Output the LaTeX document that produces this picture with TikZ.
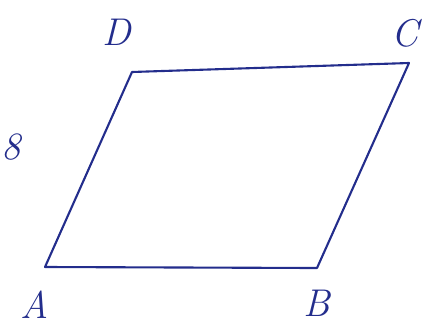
\documentclass[tikz,border=0pt]{standalone}
\usepackage{xcolor}
\usepackage{tikz}
\usetikzlibrary{positioning}

\definecolor{inkblue}{RGB}{35,45,140}

\begin{document}
\begin{tikzpicture}[
            side/.style={draw=inkblue, line width=1.2pt, line join=round},
            vlbl/.style={font=\fontsize{22}{22}\selectfont\itshape, text=inkblue, inner sep=0pt}
        ]
        \useasboundingbox (0, 0) rectangle (8.78, 6.54);

        % --- Corners ---
        \coordinate (A) at (0.90, 1.20);
        \coordinate (B) at (6.34, 1.18);
        \coordinate (C) at (8.18, 5.28);
        \coordinate (D) at (2.64, 5.10);

        \draw[side] (A) -- (B) -- (C) -- (D) -- cycle;

        % --- Labels ---
        \node[vlbl] (lblD) at (2.34, 5.90) {D};
        \node[vlbl] (lblC) at (8.10, 5.88) {C};
        \node[vlbl] (lblA) at (0.70, 0.44) {A};
        \node[vlbl] (lblB) at (6.34, 0.48) {B};
        \node[vlbl] (lbl8) at (0.22, 3.60) {8};

    \end{tikzpicture}
\end{document}
